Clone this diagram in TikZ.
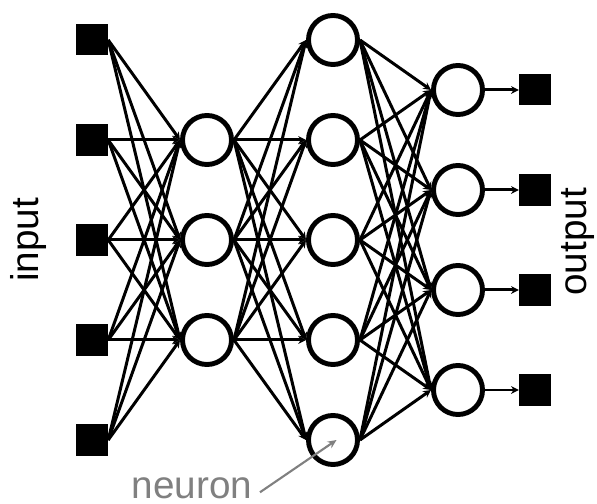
\documentclass[tikz,border=0pt]{standalone}
\usepackage{fontspec}
\setmainfont{Liberation Sans}
\usetikzlibrary{arrows.meta}
\begin{document}
\begin{tikzpicture}[x=0.01cm,y=-0.01cm,
  neuronnode/.style={circle,draw,line width=1.4pt,minimum size=0.49cm,inner sep=0pt,fill=white},
  io/.style={rectangle,fill=black,minimum size=0.31cm,inner sep=0pt},
  conn/.style={line width=0.85pt,-{Stealth[length=2.2pt,width=2.2pt]}},
  lbl/.style={font=\fontsize{11pt}{13pt}\selectfont,inner sep=0pt}]
\useasboundingbox (0,0) rectangle (597,504);
\foreach \i/\y in {1/40,2/140,3/240,4/340,5/440} \node[io] (in\i) at (92,\y) {};
\foreach \i/\y in {1/140,2/240,3/340} \node[neuronnode] (ha\i) at (207,\y) {};
\foreach \i/\y in {1/40,2/140,3/240,4/340,5/440} \node[neuronnode] (hb\i) at (333,\y) {};
\foreach \i/\y in {1/90,2/190,3/290,4/390} \node[neuronnode] (o\i) at (458,\y) {};
\foreach \i/\y in {1/90,2/190,3/290,4/390} \node[io] (out\i) at (535,\y) {};
\foreach \a in {1,...,5} \foreach \b in {1,2,3} \draw[conn] (in\a.east) -- (ha\b.west);
\foreach \a in {1,2,3} \foreach \b in {1,...,5} \draw[conn] (ha\a.east) -- (hb\b.west);
\foreach \a in {1,...,5} \foreach \b in {1,...,4} \draw[conn] (hb\a.east) -- (o\b.west);
\foreach \a in {1,...,4} \draw[conn] (o\a.east) -- (out\a.west);
\node[lbl,rotate=90] (inlbl) at (28,240) {input};
\node[lbl,rotate=90] (outlbl) at (578,242) {output};
\node[lbl,text=gray,anchor=base] (nl) at (192,499) {neuron};
\draw[gray,line width=0.6pt,-{Stealth[length=2.5pt,width=2.2pt]}] ([xshift=2pt,yshift=-1pt]nl.east) -- ([xshift=1pt]hb5.center);
\end{tikzpicture}
\end{document}
